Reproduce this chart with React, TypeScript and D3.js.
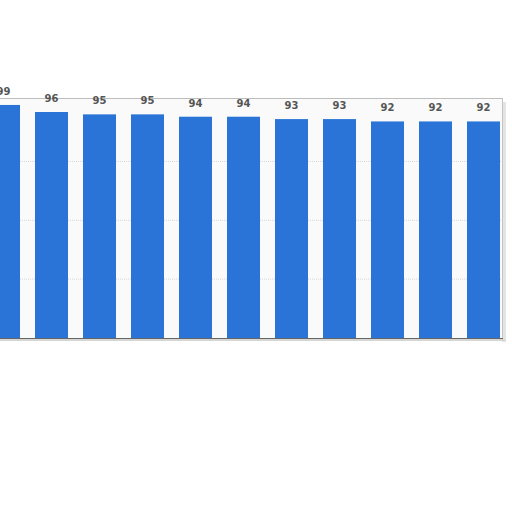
import { useRef, useEffect } from "react";
import * as d3 from "d3";

const categories = ["A", "B", "C", "D", "E", "F", "G", "H", "I", "J", "K"];
const values = [99, 96, 95, 95, 94, 94, 93, 93, 92, 92, 92];
const gridTicks = [25, 50, 75];

const App = () => {
  const ref = useRef<SVGSVGElement>(null);

  useEffect(() => {
    if (!ref.current) return;
    const svg = d3.select(ref.current);
    svg.selectAll("*").remove();

    const top = 98;
    const bottom = 338;
    const right = 502;

    const x = d3
      .scaleBand<string>()
      .domain(categories)
      .range([-20.5, 507.5])
      .paddingInner(0.3125)
      .paddingOuter(0.15625);
    const y = d3.scaleLinear().domain([0, 100]).range([bottom, 102.6]);

    // plot background
    svg
      .append("rect")
      .attr("x", -1)
      .attr("y", top)
      .attr("width", right + 1)
      .attr("height", bottom - top)
      .attr("fill", "#fafafa");

    // right shadow
    svg
      .append("rect")
      .attr("x", right)
      .attr("y", top + 4)
      .attr("width", 4)
      .attr("height", bottom - top)
      .attr("fill", "#e4e4e4");

    svg
      .append("g")
      .selectAll("line")
      .data(gridTicks)
      .join("line")
      .attr("x1", 0)
      .attr("x2", right)
      .attr("y1", (d) => y(d))
      .attr("y2", (d) => y(d))
      .attr("stroke", "#d8d8d8")
      .attr("stroke-dasharray", "1,1");

    svg
      .append("g")
      .selectAll("rect")
      .data(values)
      .join("rect")
      .attr("x", (_, i) => x(categories[i])!)
      .attr("y", (d) => y(d))
      .attr("width", x.bandwidth())
      .attr("height", (d) => bottom - y(d))
      .attr("fill", "#2a74d8");

    // frame
    svg
      .append("line")
      .attr("x1", 0)
      .attr("x2", right)
      .attr("y1", top + 0.5)
      .attr("y2", top + 0.5)
      .attr("stroke", "#bdbdbd");
    svg
      .append("line")
      .attr("x1", right + 0.5)
      .attr("x2", right + 0.5)
      .attr("y1", top)
      .attr("y2", bottom)
      .attr("stroke", "#c4c4c4");
    svg
      .append("line")
      .attr("x1", 0)
      .attr("x2", right + 1)
      .attr("y1", bottom + 0.5)
      .attr("y2", bottom + 0.5)
      .attr("stroke", "#666");
    svg
      .append("line")
      .attr("x1", 0)
      .attr("x2", right + 3)
      .attr("y1", bottom + 2)
      .attr("y2", bottom + 2)
      .attr("stroke", "#d6d6d6")
      .attr("stroke-width", 2);

    svg
      .append("g")
      .selectAll("text")
      .data(values)
      .join("text")
      .attr("x", (_, i) => x(categories[i])! + x.bandwidth() / 2)
      .attr("y", (d) => y(d) - 10)
      .attr("text-anchor", "middle")
      .attr("font-family", "DejaVu Sans, sans-serif")
      .attr("font-size", 10)
      .attr("font-weight", "bold")
      .attr("fill", "#555")
      .text((d) => d);
  }, []);

  return (
    <svg
      ref={ref}
      width={512}
      height={512}
      style={{ position: "absolute", left: 0, top: 0, background: "#fff" }}
    ></svg>
  );
};

export default App;
